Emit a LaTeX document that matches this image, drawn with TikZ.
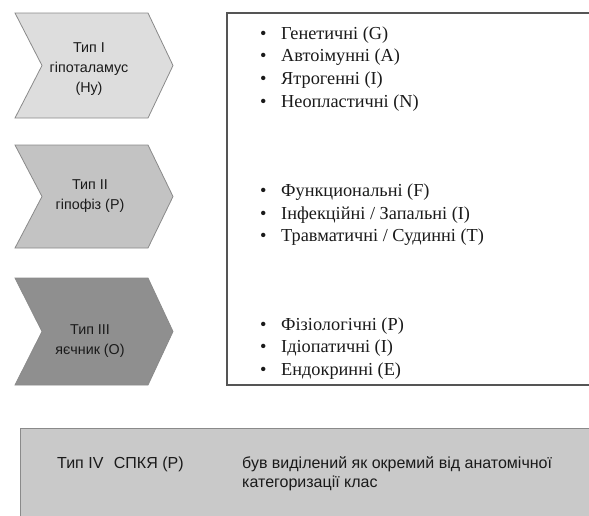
\documentclass[tikz,border=0pt]{standalone}
\usepackage{fontspec}
\setmainfont{Liberation Serif}
\newfontfamily\chevfont{Liberation Sans}
\usetikzlibrary{positioning}
\definecolor{chevlight}{HTML}{DDDDDD}
\definecolor{chevmid}{HTML}{C3C3C3}
\definecolor{chevdark}{HTML}{8F8F8F}
\definecolor{chevline}{HTML}{8A8A8A}
\definecolor{listline}{HTML}{555555}
\definecolor{classfill}{HTML}{C9C9C9}
\definecolor{textdark}{HTML}{1A1A1A}
\newcommand{\bul}{\makebox[21pt][l]{\textbullet}}

\begin{document}
\begin{tikzpicture}[x=1pt, y=-1pt,
  chev/.style={draw=chevline, line width=0.8pt},
  chevtext/.style={font=\chevfont\fontsize{14.3}{20}\selectfont, align=center, text=textdark},
  item/.style={anchor=base west, inner sep=0pt, font=\fontsize{18.3}{20}\selectfont, text=textdark},
  classtext/.style={anchor=base west, inner sep=0pt, font=\chevfont\fontsize{16}{19}\selectfont, text=textdark}
]
\clip (0,0) rectangle (589,515);
% chevrons
\draw[chev, fill=chevlight] (15,13) -- (148,13) -- (173,65.5) -- (148,118) -- (15,118) -- (42,65.5) -- cycle;
\draw[chev, fill=chevmid] (15,145) -- (148,145) -- (173,196.5) -- (148,248) -- (15,248) -- (42,196.5) -- cycle;
\draw[chev, fill=chevdark] (15,278) -- (148,278) -- (173,331.5) -- (148,385) -- (15,385) -- (42,331.5) -- cycle;
\node[chevtext] (hypo) at (89,69.5) {Тип I\\гіпоталамус\\(Ну)};
\node[chevtext] (pit) at (90,196.5) {Тип II\\гіпофіз (P)};
\node[chevtext] (ovary) at (90,341) {Тип III\\яєчник (О)};
% list box
\draw[draw=listline, line width=1.2pt] (227,13) rectangle (600,385);
\node[item] (gen) at (260,39) {\bul Генетичні (G)};
\node[item] (auto) at (260,61.7) {\bul Автоімунні (A)};
\node[item] (iatro) at (260,84.4) {\bul Ятрогенні (I)};
\node[item] (neo) at (260,107.1) {\bul Неопластичні (N)};
\node[item] (func) at (260,196.5) {\bul Функциональні (F)};
\node[item] (infl) at (260,219) {\bul Інфекційні / Запальні (I)};
\node[item] (trauma) at (260,241.5) {\bul Травматичні / Судинні (T)};
\node[item] (phys) at (260,330) {\bul Фізіологічні (P)};
\node[item] (idio) at (260,352.5) {\bul Ідіопатичні (I)};
\node[item] (endo) at (260,375) {\bul Ендокринні (E)};
% type IV
\draw[draw=chevline, fill=classfill, line width=1pt] (20,428) rectangle (600,530);
\node[classtext] (pcos) at (57,468) {Тип IV\hspace{6pt} СПКЯ (P)};
\node[classtext] (note) at (242,468) {був виділений як окремий від анатомічної};
\node[classtext] (notetwo) at (242,487) {категоризації клас};
\end{tikzpicture}
\end{document}
